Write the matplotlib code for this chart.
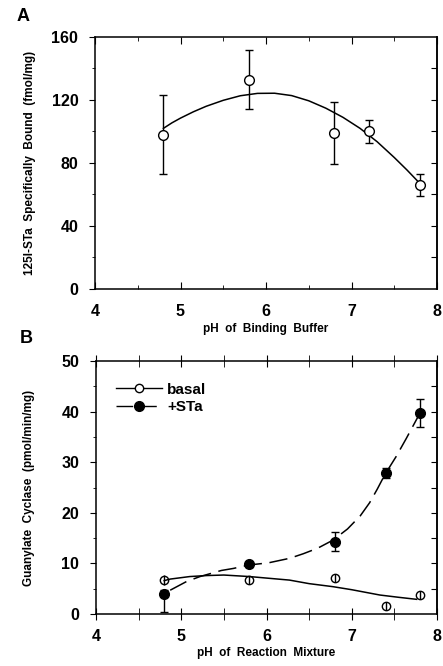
import matplotlib
matplotlib.use("Agg")
import matplotlib.pyplot as plt
from matplotlib.ticker import MultipleLocator
from matplotlib.lines import Line2D

plt.rcParams['font.family'] = ['Liberation Sans', 'DejaVu Sans']

# panel A: binding vs pH
ph_a = [4.8, 5.8, 6.8, 7.2, 7.8]
bound = [98, 133, 99, 100, 66]
bound_err = [25, 18.5, 19.5, 7.5, 7]
# fitted curve
fit_a_x = [4.8, 4.9, 5.0, 5.15, 5.3, 5.5, 5.7, 5.9, 6.1, 6.3, 6.5, 6.7, 6.9, 7.1, 7.3, 7.5, 7.65, 7.8]
fit_a_y = [102, 105.5, 108.5, 112.5, 116, 119.8, 122.7, 124.2, 124.3, 122.8, 119.5, 114.8, 109, 102, 93.5, 83.5, 75.5, 67]

# panel B: guanylate cyclase vs pH
ph_b = [4.8, 5.8, 6.8, 7.4, 7.8]
basal = [6.8, 6.8, 7.2, 1.5, 3.8]
basal_err = [1.0, 0.8, 0.8, 0.8, 0.8]
sta = [4.0, 9.8, 14.3, 27.8, 39.7]
sta_err_lo = [3.7, 0.5, 1.9, 1.0, 2.8]
sta_err_hi = [0.8, 0.5, 1.9, 1.0, 2.8]
fit_basal_x = [4.8, 4.87, 5.1, 5.3, 5.5, 5.8, 6.0, 6.27, 6.5, 6.78, 7.0, 7.33, 7.55, 7.76]
fit_basal_y = [6.6, 6.9, 7.4, 7.6, 7.7, 7.4, 7.1, 6.7, 6.0, 5.4, 4.8, 3.75, 3.3, 2.9]
fit_sta_x = [4.87, 5.06, 5.22, 5.47, 5.61, 5.8, 6.02, 6.27, 6.43, 6.6, 6.78, 6.95, 7.1, 7.21, 7.3, 7.39, 7.52, 7.64, 7.8]
fit_sta_y = [4.7, 6.4, 7.4, 8.6, 9.0, 9.7, 10.1, 11.0, 11.9, 13.0, 14.6, 16.8, 19.4, 22.0, 24.7, 27.6, 31.1, 34.7, 39.7]

fig = plt.figure(figsize=(4.43, 6.66), dpi=100)
axA = fig.add_axes([95/443, 1-289/666, 342/443, 252/666])
axB = fig.add_axes([96/443, 1-614/666, 341/443, 253/666])

tickfont = dict(fontsize=11.5, fontweight='bold')
labfont = dict(fontsize=8.5, fontweight='bold')

# ---- A ----
axA.errorbar(ph_a, bound, yerr=bound_err, fmt='o', mfc='white', mec='black',
             ms=7, mew=1, ecolor='black', elinewidth=1, capsize=3, zorder=3)
axA.plot(fit_a_x, fit_a_y, color='black', lw=1.1)
axA.set_xlim(4, 8)
axA.set_ylim(0, 160)
axA.set_xticks([4, 5, 6, 7, 8])
axA.set_yticks([0, 40, 80, 120, 160])
axA.xaxis.set_minor_locator(MultipleLocator(0.5))
axA.yaxis.set_minor_locator(MultipleLocator(20))
axA.tick_params(axis='x', which='both', direction='in', top=True, pad=11)
axA.tick_params(axis='x', which='major', length=5)
axA.tick_params(axis='x', which='minor', length=3)
axA.tick_params(axis='y', which='both', direction='out', pad=8)
axA.tick_params(axis='y', which='major', length=4)
axA.tick_params(axis='y', which='minor', length=2)
axA.set_xticklabels(['4', '5', '6', '7', '8'], **tickfont)
axA.set_yticklabels(['0', '40', '80', '120', '160'], **tickfont)
axA.set_xlabel('pH  of  Binding  Buffer', labelpad=3, **labfont)
axA.set_ylabel('125I-STa  Specifically  Bound  (fmol/mg)', labelpad=11, **labfont)
# right side inward ticks
axA_r = axA.secondary_yaxis('right')
axA_r.set_yticks([20, 40, 60, 80, 100, 120, 140])
axA_r.tick_params(direction='in', length=4, labelright=False)

# ---- B ----
axB.errorbar(ph_b, sta, yerr=[sta_err_lo, sta_err_hi], fmt='o', mfc='black', mec='black',
             ms=7, ecolor='black', elinewidth=1, capsize=3, zorder=3)
axB.errorbar(ph_b, basal, yerr=basal_err, fmt='o', mfc='none', mec='black',
             ms=6, mew=1, ecolor='black', elinewidth=1, capsize=0, zorder=4)
axB.plot(fit_basal_x, fit_basal_y, color='black', lw=1.1)
axB.plot(fit_sta_x, fit_sta_y, color='black', lw=1.1, dashes=(12, 5))
axB.set_xlim(4, 8)
axB.set_ylim(0, 50)
axB.set_xticks([4, 5, 6, 7, 8])
axB.set_yticks([0, 10, 20, 30, 40, 50])
axB.xaxis.set_minor_locator(MultipleLocator(0.5))
axB.yaxis.set_minor_locator(MultipleLocator(5))
axB.tick_params(axis='x', which='both', direction='inout', top=True, length=8, pad=7)
axB.tick_params(axis='y', which='both', direction='out', pad=8)
axB.tick_params(axis='y', which='major', length=4)
axB.tick_params(axis='y', which='minor', length=2)
axB.set_xticklabels(['4', '5', '6', '7', '8'], **tickfont)
axB.set_yticklabels(['0', '10', '20', '30', '40', '50'], **tickfont)
axB.set_xlabel('pH  of  Reaction  Mixture', labelpad=2, **labfont)
axB.set_ylabel('Guanylate  Cyclase  (pmol/min/mg)', labelpad=19, **labfont)
axB_r = axB.secondary_yaxis('right')
axB_r.set_yticks([5, 10, 15, 20, 25, 30, 35, 40, 45])
axB_r.tick_params(direction='in', length=4, labelright=False)

handles = [
    Line2D([], [], color='black', lw=1, marker='o', mfc='white', mec='black', ms=6),
    Line2D([], [], color='black', lw=1, marker='o', mfc='black', mec='black', ms=7, dashes=(12, 5)),
]
axB.legend(handles, ['basal', '+STa'], loc='upper left', bbox_to_anchor=(0.06, 0.915),
           frameon=False, handlelength=3.0, handletextpad=0.3, borderpad=0,
           borderaxespad=0, labelspacing=0.25, prop=dict(size=11, weight='bold'))

for ax in (axA, axB, axA_r, axB_r):
    for s in ax.spines.values():
        s.set_linewidth(1.1)

fig.text(17/443, 1-21/666, 'A', fontsize=13, fontweight='bold')
fig.text(20/443, 1-343/666, 'B', fontsize=13, fontweight='bold')

fig.savefig('out.png', dpi=100)
